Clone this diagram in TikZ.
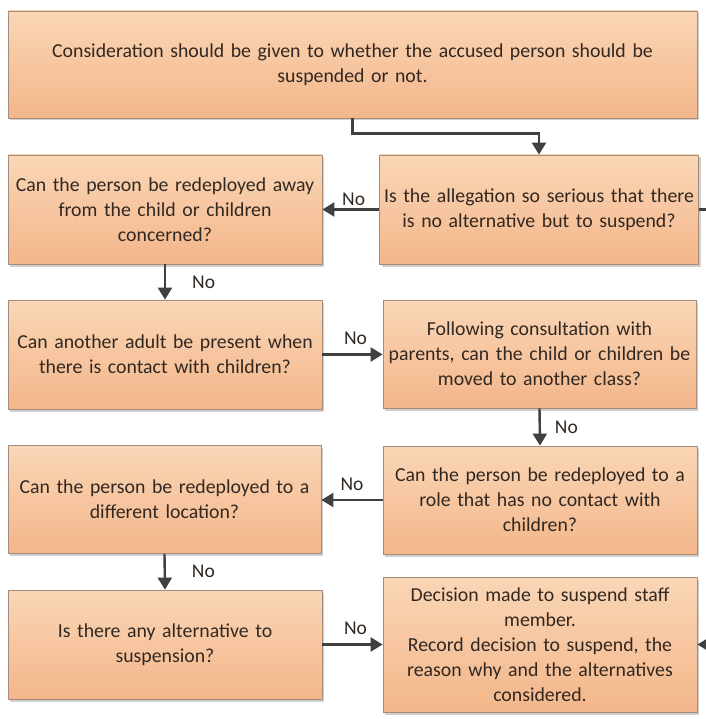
\documentclass[tikz,border=0pt]{standalone}
\usepackage{fontspec}
\setmainfont{Carlito}
\usetikzlibrary{arrows.meta,shadows}
\definecolor{boxtop}{RGB}{250,214,182}
\definecolor{boxbot}{RGB}{243,182,138}
\definecolor{boxline}{RGB}{165,140,122}
\definecolor{txt}{RGB}{50,40,34}
\definecolor{arrcol}{RGB}{64,64,64}
\tikzset{
  box/.style={draw=boxline, line width=0.8pt, top color=boxtop, bottom color=boxbot,
    drop shadow={shadow xshift=2pt, shadow yshift=-2.5pt, opacity=0.3, fill=black!60},
    inner xsep=3pt, inner ysep=0pt, align=center, text=txt,
    font=\fontsize{19.8}{25}\selectfont},
  arr/.style={draw=arrcol, line width=2.4pt, -{Triangle[length=12pt,width=14pt]}},
  stub/.style={draw=arrcol, line width=2.4pt},
  lab/.style={text=txt, font=\fontsize{19.5}{22}\selectfont, inner sep=1pt}
}
\begin{document}
\begin{tikzpicture}[x=1pt,y=-1pt]
\useasboundingbox (0,0) rectangle (705,719);
\fill[white] (0,0) rectangle (705,719);
% boxes
\node[box, text width=683pt, minimum height=107pt] (top) at (352.5,64.5)
  {Consideration should be given to whether the accused person should be\\ suspended or not.};
\node[box, text width=308pt, minimum height=109pt] (r2L) at (165,209.5)
  {Can the person be redeployed away\\ from the child or children\\ concerned?};
\node[box, text width=313pt, minimum height=109pt] (r2R) at (539,209.5)
  {Is the allegation so serious that there\\ is no alternative but to suspend?};
\node[box, text width=308pt, minimum height=109pt] (r3L) at (165,354.5)
  {Can another adult be present when\\ there is contact with children?};
\node[box, text width=307pt, minimum height=108pt] (r3R) at (539.5,354)
  {Following consultation with\\ parents, can the child or children be\\ moved to another class?};
\node[box, text width=308pt, minimum height=108pt] (r4R) at (540,500)
  {Can the person be redeployed to a\\ role that has no contact with\\ children?};
\node[box, text width=307pt, minimum height=108pt] (r4L) at (164.5,499.5)
  {Can the person be redeployed to a\\ different location?};
\node[box, text width=308pt, minimum height=109pt] (r5L) at (165,644.5)
  {Is there any alternative to\\ suspension?};
\node[box, text width=308pt, minimum height=135pt] (r5R) at (540,644.5)
  {Decision made to suspend staff\\ member.\\ Record decision to suspend, the\\ reason why and the alternatives\\ considered.};
% free ends at the right edge
\coordinate (e1) at (708,209.5);
\coordinate (e2) at (708,644.5);
% connectors
\draw[arr] (top.south) -- ++(0,15) -| (r2R.north);
\draw[arr] (r2R.west) -- node[lab, above=2pt, pos=0.45] {No} (r2L.east);
\draw[stub] (r2R.east) -- (e1);
\draw[arr] (r2L.south) -- node[lab, right=25pt] {No} (r3L.north);
\draw[arr] (r3L.east) -- node[lab, above=8pt, pos=0.55] {No} (r3R.west |- r3L.east);
\draw[arr] (r3R.south) -- node[lab, right=13pt] {No} (r4R.north);
\draw[arr] (r4R.west) -- node[lab, above=7pt, pos=0.5] {No} (r4L.east |- r4R.west);
\draw[arr] (r4L.south) -- node[lab, right=25pt] {No} (r5L.north);
\draw[arr] (r5L.east) -- node[lab, above=8pt, pos=0.55] {No} (r5R.west);
\draw[arr] (e2) -- (r5R.east);
\end{tikzpicture}
\end{document}
